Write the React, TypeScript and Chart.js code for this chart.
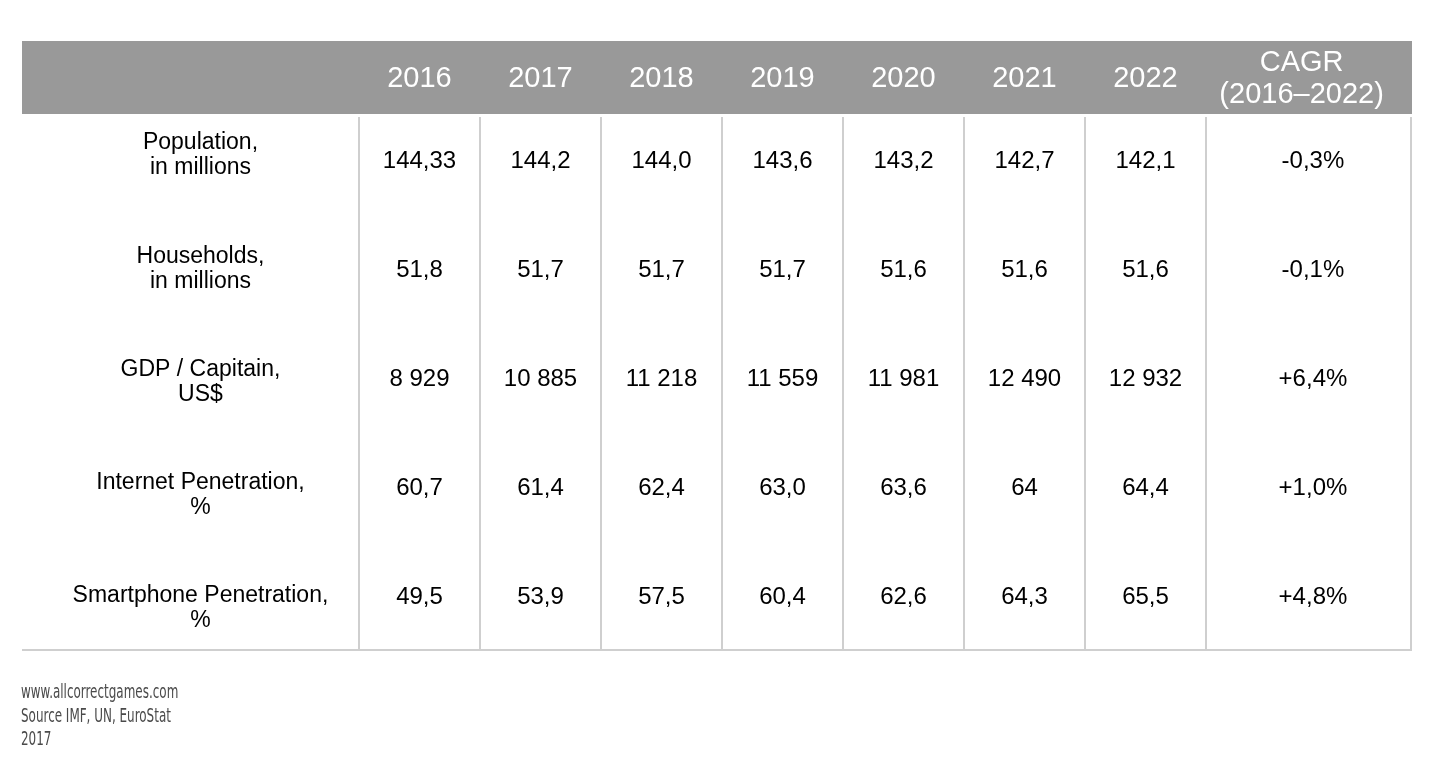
import React, { useEffect, useRef } from "react";
import { Chart, registerables } from "chart.js";

Chart.register(...registerables);

// ---------- data ----------
const YEARS = [2016, 2017, 2018, 2019, 2020, 2021, 2022];
const YEAR_LABELS = ["2016", "2017", "2018", "2019", "2020", "2021", "2022"];
const CAGR_HEADER = ["CAGR", "(2016–2022)"];

const ROW_LABELS = [
  ["Population,", "in millions"],
  ["Households,", "in millions"],
  ["GDP / Capitain,", "US$"],
  ["Internet Penetration,", "%"],
  ["Smartphone Penetration,", "%"],
];

const POPULATION = [144.33, 144.2, 144.0, 143.6, 143.2, 142.7, 142.1];
const POPULATION_DECIMALS = [2, 1, 1, 1, 1, 1, 1];
const HOUSEHOLDS = [51.8, 51.7, 51.7, 51.7, 51.6, 51.6, 51.6];
const HOUSEHOLDS_DECIMALS = [1, 1, 1, 1, 1, 1, 1];
const GDP_PER_CAPITA = [8929, 10885, 11218, 11559, 11981, 12490, 12932];
const GDP_DECIMALS = [0, 0, 0, 0, 0, 0, 0];
const INTERNET = [60.7, 61.4, 62.4, 63.0, 63.6, 64, 64.4];
const INTERNET_DECIMALS = [1, 1, 1, 1, 1, 0, 1];
const SMARTPHONE = [49.5, 53.9, 57.5, 60.4, 62.6, 64.3, 65.5];
const SMARTPHONE_DECIMALS = [1, 1, 1, 1, 1, 1, 1];
const CAGR = ["-0,3%", "-0,1%", "+6,4%", "+1,0%", "+4,8%"];

const FOOTER = ["www.allcorrectgames.com", "Source IMF, UN, EuroStat", "2017"];

// ---------- layout constants (scale units) ----------
const X_MIN = 2012.715;
const X_MAX = 2024.2025;
const LABEL_COL_X = 2014.19;
const CAGR_COL_X = 2023.384;
const CAGR_HEAD_X = 2023.29;
const Y_MIN = -1.0838;
const Y_MAX = 4.5095;
const HEADER_BOTTOM = -0.4144;
const HEADER_CENTER = -0.7537;
const LINE_TOP = -0.3869;
const LABEL_ROW_STEP = 1.038;
const LABEL_ROW_SHIFT = -0.051;

const SANS = '"Liberation Sans", Arial, Helvetica, sans-serif';

function fmt(v: number, d: number): string {
  const s = v.toFixed(d);
  const parts = s.split(".");
  const ip = parts[0].replace(/\B(?=(\d{3})+(?!\d))/g, " ");
  return parts[1] ? ip + "," + parts[1] : ip;
}

const ROWS = [
  { values: POPULATION, decimals: POPULATION_DECIMALS },
  { values: HOUSEHOLDS, decimals: HOUSEHOLDS_DECIMALS },
  { values: GDP_PER_CAPITA, decimals: GDP_DECIMALS },
  { values: INTERNET, decimals: INTERNET_DECIMALS },
  { values: SMARTPHONE, decimals: SMARTPHONE_DECIMALS },
];

function drawCentered(ctx: CanvasRenderingContext2D, text: string, cx: number, cy: number, size: number) {
  ctx.fillText(text, cx, cy + size * 0.358);
}

const tablePlugin = {
  id: "tablePlugin",
  beforeDatasetsDraw(chart: any) {
    const { ctx, chartArea } = chart;
    const x = chart.scales.x;
    const y = chart.scales.y;
    ctx.save();
    // header band
    const hb = y.getPixelForValue(HEADER_BOTTOM);
    ctx.fillStyle = "#999999";
    ctx.fillRect(chartArea.left, chartArea.top, chartArea.right - chartArea.left, hb - chartArea.top);

    // grid lines
    ctx.strokeStyle = "#cfcfcf";
    ctx.lineWidth = 2;
    const lt = y.getPixelForValue(LINE_TOP);
    const bounds = YEARS.map((v) => v - 0.5).concat([YEARS[YEARS.length - 1] + 0.5]);
    ctx.beginPath();
    for (const b of bounds) {
      const px = Math.round(x.getPixelForValue(b));
      ctx.moveTo(px, lt);
      ctx.lineTo(px, chartArea.bottom);
    }
    ctx.moveTo(chartArea.right - 1, lt);
    ctx.lineTo(chartArea.right - 1, chartArea.bottom);
    ctx.moveTo(chartArea.left, chartArea.bottom - 1);
    ctx.lineTo(chartArea.right, chartArea.bottom - 1);
    ctx.stroke();

    // header texts
    const hc = y.getPixelForValue(HEADER_CENTER);
    ctx.fillStyle = "#ffffff";
    ctx.textAlign = "center";
    ctx.font = `29px ${SANS}`;
    YEARS.forEach((yr, i) => {
      drawCentered(ctx, YEAR_LABELS[i], x.getPixelForValue(yr), hc, 29);
    });
    const cx = x.getPixelForValue(CAGR_HEAD_X);
    drawCentered(ctx, CAGR_HEADER[0], cx, hc - 16, 29);
    drawCentered(ctx, CAGR_HEADER[1], cx, hc + 16, 29);

    // row labels
    ctx.fillStyle = "#000000";
    ctx.font = `23px ${SANS}`;
    const lx = x.getPixelForValue(LABEL_COL_X);
    ROW_LABELS.forEach((lines, i) => {
      const ry = y.getPixelForValue(i * LABEL_ROW_STEP + LABEL_ROW_SHIFT);
      drawCentered(ctx, lines[0], lx, ry - 12.5, 23);
      drawCentered(ctx, lines[1], lx, ry + 12.5, 23);
    });

    // footer
    ctx.fillStyle = "#4a4a4a";
    ctx.textAlign = "left";
    ctx.font = `19px "Liberation Sans Narrow", "DejaVu Sans Condensed", ${SANS}`;
    FOOTER.forEach((t, i) => {
      ctx.save();
      ctx.translate(chartArea.left - 1, chartArea.bottom + 47 + i * 23.5);
      ctx.scale(0.7, 1);
      ctx.fillText(t, 0, 0);
      ctx.restore();
    });
    ctx.restore();
  },
  afterDatasetsDraw(chart: any) {
    const { ctx } = chart;
    ctx.save();
    ctx.fillStyle = "#000000";
    ctx.textAlign = "center";
    ctx.font = `24px ${SANS}`;
    chart.data.datasets.forEach((ds: any, di: number) => {
      const meta = chart.getDatasetMeta(di);
      meta.data.forEach((pt: any, i: number) => {
        drawCentered(ctx, ds.texts[i], pt.x, pt.y, 24);
      });
    });
    ctx.restore();
  },
};

export default function App() {
  const ref = useRef<HTMLCanvasElement | null>(null);
  useEffect(() => {
    if (!ref.current) return;
    const datasets: any[] = ROWS.map((r, ri) => ({
      label: ROW_LABELS[ri].join(" "),
      data: YEARS.map((yr) => ({ x: yr, y: ri })),
      texts: r.values.map((v, i) => fmt(v, r.decimals[i])),
      pointRadius: 0,
      pointHoverRadius: 0,
      showLine: false,
    }));
    datasets.push({
      label: "CAGR",
      data: CAGR.map((_, ri) => ({ x: CAGR_COL_X, y: ri })),
      texts: CAGR,
      pointRadius: 0,
      pointHoverRadius: 0,
      showLine: false,
    });
    const chart = new Chart(ref.current, {
      type: "scatter",
      data: { datasets },
      options: {
        responsive: false,
        animation: false,
        devicePixelRatio: 1,
        layout: { padding: { left: 22, right: 18, top: 41, bottom: 129 } },
        scales: {
          x: { type: "linear", min: X_MIN, max: X_MAX, display: false },
          y: { type: "linear", min: Y_MIN, max: Y_MAX, reverse: true, display: false },
        },
        plugins: { legend: { display: false }, tooltip: { enabled: false } },
        events: [],
      },
      plugins: [tablePlugin],
    } as any);
    return () => chart.destroy();
  }, []);
  return (
    <div style={{ position: "fixed", left: 0, top: 0, width: 1430, height: 780, background: "#ffffff" }}>
      <canvas ref={ref} width={1430} height={780} style={{ display: "block" }} />
    </div>
  );
}
